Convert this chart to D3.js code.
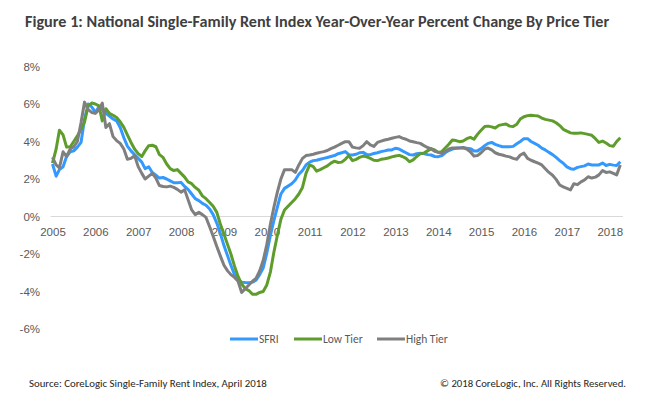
<!DOCTYPE html>
<html>
<head>
<meta charset="utf-8">
<script src="https://cdn.jsdelivr.net/npm/d3@7"></script>
<style>
  body { margin: 0; background: #fff; }
  svg { display: block; font-family: Carlito, Calibri, Lato, sans-serif; }
</style>
</head>
<body>
<svg class="chart" width="650" height="400"></svg>
<script>
const title = "Figure 1: National Single-Family Rent Index Year-Over-Year Percent Change By Price Tier";
const source = "Source: CoreLogic Single-Family Rent Index, April 2018";
const copyright = "\u00a9 2018 CoreLogic, Inc. All Rights Reserved.";

const seriesNames = ["SFRI", "Low Tier", "High Tier"];
const yTicks = [-6, -4, -2, 0, 2, 4, 6, 8];
const yearTicks = [2005, 2006, 2007, 2008, 2009, 2010, 2011, 2012, 2013, 2014, 2015, 2016, 2017, 2018];

// monthly, Jan 2005 .. Apr 2018
const sfri = [
  2.8, 2.15, 2.5, 2.65, 3.2, 3.45, 3.5, 3.7, 3.95, 5.2, 6.0, 5.85,
  5.55, 5.85, 5.7, 5.5, 5.35, 5.2, 5.1, 4.75, 4.2, 3.75, 3.5, 3.3,
  3.1, 2.9, 2.55, 2.65, 2.35, 2.2, 2.05, 2.08, 2.0, 1.9, 1.8, 1.8,
  1.82, 1.6, 1.45, 1.2, 0.95, 0.85, 0.7, 0.6, 0.4, 0.1, -0.35, -0.9,
  -1.55, -2.1, -2.6, -3.1, -3.4, -3.5, -3.52, -3.53, -3.5, -3.4, -3.1, -2.75,
  -1.95, -1.0, -0.25, 0.5, 1.2, 1.5, 1.62, 1.75, 1.95, 2.25, 2.45, 2.75,
  2.9, 2.98, 3.0, 3.05, 3.1, 3.15, 3.2, 3.25, 3.35, 3.4, 3.46, 3.3,
  3.28, 3.32, 3.4, 3.42, 3.3, 3.3, 3.36, 3.4, 3.46, 3.5, 3.55, 3.55,
  3.64, 3.6, 3.5, 3.4, 3.3, 3.28, 3.35, 3.37, 3.36, 3.3, 3.28, 3.2,
  3.19, 3.25, 3.4, 3.52, 3.6, 3.64, 3.66, 3.66, 3.64, 3.62, 3.5, 3.5,
  3.62, 3.78, 3.9, 3.95, 3.85, 3.78, 3.72, 3.72, 3.72, 3.74, 3.88, 4.0,
  4.15, 4.15, 4.0, 3.9, 3.8, 3.65, 3.55, 3.42, 3.3, 3.15, 2.98, 2.84,
  2.65, 2.55, 2.52, 2.62, 2.66, 2.7, 2.8, 2.75, 2.75, 2.75, 2.85, 2.72,
  2.78, 2.74, 2.72, 2.92
];
const lowTier = [
  2.85, 3.6, 4.6, 4.35, 3.7, 3.72, 4.0, 4.3, 4.65, 5.05, 5.9, 6.05,
  6.0, 5.9, 5.1, 5.75, 5.5, 5.4, 5.28, 5.05, 4.75, 4.35, 3.95, 3.6,
  3.35, 3.2, 3.5, 3.78, 3.8, 3.72, 3.3, 3.15, 2.8, 2.55, 2.45, 2.5,
  2.3, 2.1, 1.85, 1.75, 1.55, 1.4, 1.1, 0.95, 0.75, 0.55, 0.22, -0.4,
  -0.95, -1.5, -2.0, -2.65, -3.2, -3.6, -3.85, -3.95, -4.15, -4.15, -4.05, -4.0,
  -3.65, -2.95, -1.95, -1.0, -0.15, 0.35, 0.55, 0.75, 0.95, 1.2, 1.55, 2.3,
  2.75, 2.66, 2.42, 2.5, 2.6, 2.7, 2.85, 2.95, 2.88, 2.9, 3.05, 3.25,
  2.98, 3.05, 3.15, 3.22, 3.18, 3.1, 3.0, 2.98, 3.05, 3.08, 3.12, 3.18,
  3.23, 3.26, 3.2, 3.1, 2.92, 3.02, 3.2, 3.35, 3.38, 3.5, 3.62, 3.55,
  3.42, 3.46, 3.65, 3.85, 4.08, 4.05, 3.99, 4.03, 4.15, 4.22, 4.12, 4.38,
  4.6, 4.8, 4.82, 4.78, 4.72, 4.86, 4.9, 4.93, 4.82, 4.8, 4.92, 5.2,
  5.32, 5.38, 5.4, 5.38, 5.36, 5.25, 5.18, 5.14, 5.1, 5.0, 4.85, 4.65,
  4.55, 4.46, 4.44, 4.44, 4.46, 4.42, 4.38, 4.33, 4.15, 3.95, 4.02, 3.92,
  3.78, 3.75, 4.0, 4.2
];
const highTier = [
  3.15, 2.75, 2.6, 3.45, 3.2, 3.6, 3.72, 4.0, 5.0, 6.1, 5.7, 5.55,
  5.5, 5.7, 6.05, 4.75, 4.95, 4.26, 4.05, 3.9, 3.6, 3.05, 3.1, 3.25,
  2.66, 2.3, 2.0, 2.15, 2.3, 2.05, 1.65, 1.6, 1.58, 1.62, 1.55, 1.45,
  1.3, 1.42, 0.9, 0.35, 0.1, 0.22, 0.1, -0.05, -0.55, -1.05, -1.6, -2.1,
  -2.6, -2.9, -3.1, -3.25, -3.45, -4.05, -3.85, -3.65, -3.45, -3.3, -2.9, -2.35,
  -1.5, -0.4, 0.45, 1.3, 2.0, 2.5, 2.5, 2.5, 2.35, 2.75, 3.1, 3.25,
  3.28, 3.32, 3.37, 3.42, 3.46, 3.52, 3.62, 3.7, 3.8, 3.9, 3.99, 3.99,
  3.7, 3.66, 3.64, 3.78, 3.99, 3.82, 3.74, 3.95, 4.02, 4.08, 4.12, 4.17,
  4.22, 4.26, 4.18, 4.12, 4.03, 3.99, 3.94, 3.9, 3.78, 3.68, 3.6, 3.48,
  3.42, 3.37, 3.46, 3.6, 3.65, 3.66, 3.66, 3.68, 3.6, 3.45, 3.22, 3.25,
  3.4, 3.6, 3.65, 3.55, 3.4, 3.32, 3.28, 3.22, 3.18, 3.1, 3.05, 3.28,
  3.38, 3.1, 3.0, 2.92, 2.85, 2.75, 2.55, 2.35, 2.2, 1.98, 1.68, 1.58,
  1.5, 1.42, 1.75, 1.7, 1.85, 1.95, 2.12, 2.05, 2.1, 2.22, 2.45, 2.35,
  2.38, 2.3, 2.22, 2.75
];

const colors = ["#3399ff", "#5e9c2c", "#7f7f7f"];
const months = d3.timeMonth.range(new Date(2005, 0, 1), new Date(2018, 4, 1));
const seriesValues = [sfri, lowTier, highTier];

const svg = d3.select('svg.chart');

// scale font so a text fills the width it has in the original
function fitText(sel, width) {
  const size = parseFloat(sel.style('font-size'));
  const len = sel.node().getComputedTextLength();
  sel.style('font-size', (size * width / len) + 'px');
  return sel;
}

const x = d3.scaleTime()
            .domain([months[0], months[months.length - 1]])
            .range([52.5, 620.3]);
const y = d3.scaleLinear()
            .domain([-6, 8])
            .range([329, 66.5]);

// title
svg.append('text')
  .attr('x', 25)
  .attr('y', 27)
  .style('font-size', '16px')
  .style('font-weight', 'bold')
  .style('fill', '#3f3f3f')
  .text(title)
  .call(fitText, 585);

// y axis labels
const yAxis = svg.append('g')
  .attr('transform', 'translate(50,0)')
  .call(d3.axisLeft(y).tickValues(yTicks).tickSize(0).tickPadding(10).tickFormat(d => `${d}%`));
yAxis.select('.domain').remove();
yAxis.selectAll('text')
  .style('font-family', 'inherit')
  .style('font-size', '11.5px')
  .style('fill', '#595959');

// x axis labels sit under the 0% line
const xAxis = svg.append('g')
  .attr('transform', `translate(0,${y(0)})`)
  .call(d3.axisBottom(x)
          .tickValues(yearTicks.map(yr => new Date(yr, 0, 1)))
          .tickSize(0)
          .tickPadding(11)
          .tickFormat(d3.timeFormat('%Y')));
xAxis.select('.domain').remove();
xAxis.selectAll('text')
  .style('font-family', 'inherit')
  .style('font-size', '11.5px')
  .style('fill', '#595959');

// zero line
svg.append('line')
  .attr('x1', 50.5)
  .attr('x2', 623)
  .attr('y1', y(0))
  .attr('y2', y(0))
  .style('stroke', '#d9d9d9')
  .style('stroke-width', 1);

const line = d3.line()
               .x((d, i) => x(months[i]))
               .y(d => y(d));

svg.selectAll('path.series')
  .data(seriesValues)
  .enter()
  .append('path')
  .attr('class', 'series')
  .attr('d', d => line(d))
  .style('fill', 'none')
  .style('stroke', (d, i) => colors[i])
  .style('stroke-width', 3)
  .style('stroke-linejoin', 'round');

// legend
const legX = [230, 294, 377];
const leg = svg.selectAll('g.leg')
  .data(seriesNames)
  .enter()
  .append('g')
  .attr('class', 'leg')
  .attr('transform', (d, i) => `translate(${legX[i]},339)`);
leg.append('line')
  .attr('x1', 0)
  .attr('x2', 28)
  .style('stroke', (d, i) => colors[i])
  .style('stroke-width', 3);
leg.append('text')
  .attr('x', 29)
  .attr('dy', '0.35em')
  .style('font-size', '11.5px')
  .style('fill', '#595959')
  .text(d => d);

// footer
svg.append('text')
  .attr('x', 29)
  .attr('y', 387)
  .style('font-size', '12px')
  .style('fill', '#262626')
  .text(source)
  .call(fitText, 238);

svg.append('text')
  .attr('x', 626)
  .attr('y', 387)
  .style('text-anchor', 'end')
  .style('font-size', '12px')
  .style('fill', '#262626')
  .text(copyright)
  .call(fitText, 186);
</script>
</body>
</html>
